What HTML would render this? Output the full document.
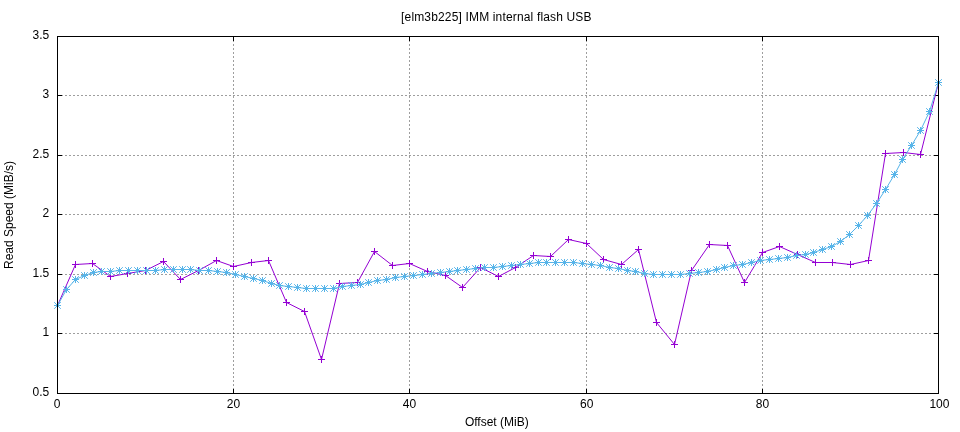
<!DOCTYPE html>
<html lang="en">
<head>
<meta charset="utf-8">
<title>[elm3b225] IMM internal flash USB</title>
<style>
html,body{margin:0;padding:0;background:#fff;}
body{width:960px;height:432px;overflow:hidden;}
svg{display:block;}
</style>
</head>
<body>
<svg width="960" height="432" viewBox="0 0 960 432" role="img" aria-label="Read speed versus offset line chart">
<rect width="960" height="432" fill="#ffffff"/>
<path d="M57,95.5H938.5M57,155.5H938.5M57,214.5H938.5M57,274.5H938.5M57,333.5H938.5M233.5,394V36.5M409.5,394V36.5M586.5,394V36.5M762.5,394V36.5" fill="none" stroke="#000" stroke-opacity="0.38" stroke-width="1" stroke-dasharray="2 2"/>
<path d="M57.5,36.5h4.5M938.5,36.5h-4.5M57.5,95.5h4.5M938.5,95.5h-4.5M57.5,155.5h4.5M938.5,155.5h-4.5M57.5,214.5h4.5M938.5,214.5h-4.5M57.5,274.5h4.5M938.5,274.5h-4.5M57.5,333.5h4.5M938.5,333.5h-4.5M57.5,393.5h4.5M938.5,393.5h-4.5M57.5,393.5v-4.5M57.5,36.5v4.5M233.5,393.5v-4.5M233.5,36.5v4.5M409.5,393.5v-4.5M409.5,36.5v4.5M586.5,393.5v-4.5M586.5,36.5v4.5M762.5,393.5v-4.5M762.5,36.5v4.5M938.5,393.5v-4.5M938.5,36.5v4.5" fill="none" stroke="#000" stroke-width="1"/>
<polyline points="57.5,305.5 75.5,264.5 92.5,263.5 110.5,276.5 127.5,273.5 145.5,270.5 163.5,261.5 180.5,279.5 198.5,270.5 216.5,260.5 233.5,266.5 251.5,262.5 268.5,260.5 286.5,302.5 304.5,311.5 321.5,359.5 339.5,283.5 357.5,282.5 374.5,251.5 392.5,265.5 409.5,263.5 427.5,271.5 445.5,275.5 462.5,287.5 480.5,267.5 498.5,276.5 515.5,267.5 533.5,255.5 550.5,256.5 568.5,239.5 586.5,243.5 603.5,259.5 621.5,264.5 638.5,249.5 656.5,322.5 674.5,344.5 691.5,270.5 709.5,244.5 727.5,245.5 744.5,282.5 762.5,252.5 779.5,246.5 797.5,254.5 815.5,262.5 832.5,262.5 850.5,264.5 868.5,260.5 885.5,153.5 903.5,152.5 920.5,154.5 938.5,82.5" fill="none" stroke="#9400d3" stroke-width="1" stroke-linejoin="round" stroke-linecap="butt"/>
<path d="M54,305.5h7M57.5,302v7M72,264.5h7M75.5,261v7M89,263.5h7M92.5,260v7M107,276.5h7M110.5,273v7M124,273.5h7M127.5,270v7M142,270.5h7M145.5,267v7M160,261.5h7M163.5,258v7M177,279.5h7M180.5,276v7M195,270.5h7M198.5,267v7M213,260.5h7M216.5,257v7M230,266.5h7M233.5,263v7M248,262.5h7M251.5,259v7M265,260.5h7M268.5,257v7M283,302.5h7M286.5,299v7M301,311.5h7M304.5,308v7M318,359.5h7M321.5,356v7M336,283.5h7M339.5,280v7M354,282.5h7M357.5,279v7M371,251.5h7M374.5,248v7M389,265.5h7M392.5,262v7M406,263.5h7M409.5,260v7M424,271.5h7M427.5,268v7M442,275.5h7M445.5,272v7M459,287.5h7M462.5,284v7M477,267.5h7M480.5,264v7M495,276.5h7M498.5,273v7M512,267.5h7M515.5,264v7M530,255.5h7M533.5,252v7M547,256.5h7M550.5,253v7M565,239.5h7M568.5,236v7M583,243.5h7M586.5,240v7M600,259.5h7M603.5,256v7M618,264.5h7M621.5,261v7M635,249.5h7M638.5,246v7M653,322.5h7M656.5,319v7M671,344.5h7M674.5,341v7M688,270.5h7M691.5,267v7M706,244.5h7M709.5,241v7M724,245.5h7M727.5,242v7M741,282.5h7M744.5,279v7M759,252.5h7M762.5,249v7M776,246.5h7M779.5,243v7M794,254.5h7M797.5,251v7M812,262.5h7M815.5,259v7M829,262.5h7M832.5,259v7M847,264.5h7M850.5,261v7M865,260.5h7M868.5,257v7M882,153.5h7M885.5,150v7M900,152.5h7M903.5,149v7M917,154.5h7M920.5,151v7M935,82.5h7M938.5,79v7" fill="none" stroke="#9400d3" stroke-width="1"/>
<polyline points="57.5,305.5 66.5,289.5 75.5,279.5 84.5,275.5 93.5,272.5 101.5,271.5 110.5,271.5 119.5,270.5 128.5,270.5 137.5,270.5 146.5,270.5 155.5,270.5 164.5,269.5 173.5,269.5 182.5,269.5 190.5,269.5 199.5,270.5 208.5,270.5 217.5,271.5 226.5,272.5 235.5,274.5 244.5,276.5 253.5,278.5 262.5,280.5 271.5,283.5 279.5,285.5 288.5,286.5 297.5,287.5 306.5,288.5 315.5,288.5 324.5,288.5 333.5,288.5 342.5,286.5 351.5,285.5 360.5,284.5 368.5,282.5 377.5,280.5 386.5,279.5 395.5,277.5 404.5,276.5 413.5,275.5 422.5,274.5 431.5,273.5 440.5,272.5 449.5,271.5 457.5,270.5 466.5,269.5 475.5,268.5 484.5,267.5 493.5,267.5 502.5,266.5 511.5,265.5 520.5,264.5 529.5,263.5 538.5,262.5 546.5,262.5 555.5,262.5 564.5,262.5 573.5,262.5 582.5,263.5 591.5,264.5 600.5,265.5 609.5,267.5 618.5,268.5 627.5,270.5 635.5,271.5 644.5,273.5 653.5,274.5 662.5,274.5 671.5,274.5 680.5,274.5 689.5,273.5 698.5,272.5 707.5,271.5 716.5,269.5 724.5,267.5 733.5,265.5 742.5,264.5 751.5,262.5 760.5,260.5 769.5,259.5 778.5,258.5 787.5,257.5 796.5,255.5 805.5,254.5 813.5,252.5 822.5,249.5 831.5,246.5 840.5,241.5 849.5,234.5 858.5,225.5 867.5,215.5 876.5,203.5 885.5,189.5 894.5,174.5 902.5,159.5 911.5,145.5 920.5,130.5 929.5,111.5 938.5,82.5" fill="none" stroke="#56b4e9" stroke-width="1" stroke-linejoin="round" stroke-linecap="butt"/>
<path d="M54,305.5h7M57.5,302v7M54.2,302.2l6.6,6.6M54.2,308.8l6.6,-6.6M63,289.5h7M66.5,286v7M63.2,286.2l6.6,6.6M63.2,292.8l6.6,-6.6M72,279.5h7M75.5,276v7M72.2,276.2l6.6,6.6M72.2,282.8l6.6,-6.6M81,275.5h7M84.5,272v7M81.2,272.2l6.6,6.6M81.2,278.8l6.6,-6.6M90,272.5h7M93.5,269v7M90.2,269.2l6.6,6.6M90.2,275.8l6.6,-6.6M98,271.5h7M101.5,268v7M98.2,268.2l6.6,6.6M98.2,274.8l6.6,-6.6M107,271.5h7M110.5,268v7M107.2,268.2l6.6,6.6M107.2,274.8l6.6,-6.6M116,270.5h7M119.5,267v7M116.2,267.2l6.6,6.6M116.2,273.8l6.6,-6.6M125,270.5h7M128.5,267v7M125.2,267.2l6.6,6.6M125.2,273.8l6.6,-6.6M134,270.5h7M137.5,267v7M134.2,267.2l6.6,6.6M134.2,273.8l6.6,-6.6M143,270.5h7M146.5,267v7M143.2,267.2l6.6,6.6M143.2,273.8l6.6,-6.6M152,270.5h7M155.5,267v7M152.2,267.2l6.6,6.6M152.2,273.8l6.6,-6.6M161,269.5h7M164.5,266v7M161.2,266.2l6.6,6.6M161.2,272.8l6.6,-6.6M170,269.5h7M173.5,266v7M170.2,266.2l6.6,6.6M170.2,272.8l6.6,-6.6M179,269.5h7M182.5,266v7M179.2,266.2l6.6,6.6M179.2,272.8l6.6,-6.6M187,269.5h7M190.5,266v7M187.2,266.2l6.6,6.6M187.2,272.8l6.6,-6.6M196,270.5h7M199.5,267v7M196.2,267.2l6.6,6.6M196.2,273.8l6.6,-6.6M205,270.5h7M208.5,267v7M205.2,267.2l6.6,6.6M205.2,273.8l6.6,-6.6M214,271.5h7M217.5,268v7M214.2,268.2l6.6,6.6M214.2,274.8l6.6,-6.6M223,272.5h7M226.5,269v7M223.2,269.2l6.6,6.6M223.2,275.8l6.6,-6.6M232,274.5h7M235.5,271v7M232.2,271.2l6.6,6.6M232.2,277.8l6.6,-6.6M241,276.5h7M244.5,273v7M241.2,273.2l6.6,6.6M241.2,279.8l6.6,-6.6M250,278.5h7M253.5,275v7M250.2,275.2l6.6,6.6M250.2,281.8l6.6,-6.6M259,280.5h7M262.5,277v7M259.2,277.2l6.6,6.6M259.2,283.8l6.6,-6.6M268,283.5h7M271.5,280v7M268.2,280.2l6.6,6.6M268.2,286.8l6.6,-6.6M276,285.5h7M279.5,282v7M276.2,282.2l6.6,6.6M276.2,288.8l6.6,-6.6M285,286.5h7M288.5,283v7M285.2,283.2l6.6,6.6M285.2,289.8l6.6,-6.6M294,287.5h7M297.5,284v7M294.2,284.2l6.6,6.6M294.2,290.8l6.6,-6.6M303,288.5h7M306.5,285v7M303.2,285.2l6.6,6.6M303.2,291.8l6.6,-6.6M312,288.5h7M315.5,285v7M312.2,285.2l6.6,6.6M312.2,291.8l6.6,-6.6M321,288.5h7M324.5,285v7M321.2,285.2l6.6,6.6M321.2,291.8l6.6,-6.6M330,288.5h7M333.5,285v7M330.2,285.2l6.6,6.6M330.2,291.8l6.6,-6.6M339,286.5h7M342.5,283v7M339.2,283.2l6.6,6.6M339.2,289.8l6.6,-6.6M348,285.5h7M351.5,282v7M348.2,282.2l6.6,6.6M348.2,288.8l6.6,-6.6M357,284.5h7M360.5,281v7M357.2,281.2l6.6,6.6M357.2,287.8l6.6,-6.6M365,282.5h7M368.5,279v7M365.2,279.2l6.6,6.6M365.2,285.8l6.6,-6.6M374,280.5h7M377.5,277v7M374.2,277.2l6.6,6.6M374.2,283.8l6.6,-6.6M383,279.5h7M386.5,276v7M383.2,276.2l6.6,6.6M383.2,282.8l6.6,-6.6M392,277.5h7M395.5,274v7M392.2,274.2l6.6,6.6M392.2,280.8l6.6,-6.6M401,276.5h7M404.5,273v7M401.2,273.2l6.6,6.6M401.2,279.8l6.6,-6.6M410,275.5h7M413.5,272v7M410.2,272.2l6.6,6.6M410.2,278.8l6.6,-6.6M419,274.5h7M422.5,271v7M419.2,271.2l6.6,6.6M419.2,277.8l6.6,-6.6M428,273.5h7M431.5,270v7M428.2,270.2l6.6,6.6M428.2,276.8l6.6,-6.6M437,272.5h7M440.5,269v7M437.2,269.2l6.6,6.6M437.2,275.8l6.6,-6.6M446,271.5h7M449.5,268v7M446.2,268.2l6.6,6.6M446.2,274.8l6.6,-6.6M454,270.5h7M457.5,267v7M454.2,267.2l6.6,6.6M454.2,273.8l6.6,-6.6M463,269.5h7M466.5,266v7M463.2,266.2l6.6,6.6M463.2,272.8l6.6,-6.6M472,268.5h7M475.5,265v7M472.2,265.2l6.6,6.6M472.2,271.8l6.6,-6.6M481,267.5h7M484.5,264v7M481.2,264.2l6.6,6.6M481.2,270.8l6.6,-6.6M490,267.5h7M493.5,264v7M490.2,264.2l6.6,6.6M490.2,270.8l6.6,-6.6M499,266.5h7M502.5,263v7M499.2,263.2l6.6,6.6M499.2,269.8l6.6,-6.6M508,265.5h7M511.5,262v7M508.2,262.2l6.6,6.6M508.2,268.8l6.6,-6.6M517,264.5h7M520.5,261v7M517.2,261.2l6.6,6.6M517.2,267.8l6.6,-6.6M526,263.5h7M529.5,260v7M526.2,260.2l6.6,6.6M526.2,266.8l6.6,-6.6M535,262.5h7M538.5,259v7M535.2,259.2l6.6,6.6M535.2,265.8l6.6,-6.6M543,262.5h7M546.5,259v7M543.2,259.2l6.6,6.6M543.2,265.8l6.6,-6.6M552,262.5h7M555.5,259v7M552.2,259.2l6.6,6.6M552.2,265.8l6.6,-6.6M561,262.5h7M564.5,259v7M561.2,259.2l6.6,6.6M561.2,265.8l6.6,-6.6M570,262.5h7M573.5,259v7M570.2,259.2l6.6,6.6M570.2,265.8l6.6,-6.6M579,263.5h7M582.5,260v7M579.2,260.2l6.6,6.6M579.2,266.8l6.6,-6.6M588,264.5h7M591.5,261v7M588.2,261.2l6.6,6.6M588.2,267.8l6.6,-6.6M597,265.5h7M600.5,262v7M597.2,262.2l6.6,6.6M597.2,268.8l6.6,-6.6M606,267.5h7M609.5,264v7M606.2,264.2l6.6,6.6M606.2,270.8l6.6,-6.6M615,268.5h7M618.5,265v7M615.2,265.2l6.6,6.6M615.2,271.8l6.6,-6.6M624,270.5h7M627.5,267v7M624.2,267.2l6.6,6.6M624.2,273.8l6.6,-6.6M632,271.5h7M635.5,268v7M632.2,268.2l6.6,6.6M632.2,274.8l6.6,-6.6M641,273.5h7M644.5,270v7M641.2,270.2l6.6,6.6M641.2,276.8l6.6,-6.6M650,274.5h7M653.5,271v7M650.2,271.2l6.6,6.6M650.2,277.8l6.6,-6.6M659,274.5h7M662.5,271v7M659.2,271.2l6.6,6.6M659.2,277.8l6.6,-6.6M668,274.5h7M671.5,271v7M668.2,271.2l6.6,6.6M668.2,277.8l6.6,-6.6M677,274.5h7M680.5,271v7M677.2,271.2l6.6,6.6M677.2,277.8l6.6,-6.6M686,273.5h7M689.5,270v7M686.2,270.2l6.6,6.6M686.2,276.8l6.6,-6.6M695,272.5h7M698.5,269v7M695.2,269.2l6.6,6.6M695.2,275.8l6.6,-6.6M704,271.5h7M707.5,268v7M704.2,268.2l6.6,6.6M704.2,274.8l6.6,-6.6M713,269.5h7M716.5,266v7M713.2,266.2l6.6,6.6M713.2,272.8l6.6,-6.6M721,267.5h7M724.5,264v7M721.2,264.2l6.6,6.6M721.2,270.8l6.6,-6.6M730,265.5h7M733.5,262v7M730.2,262.2l6.6,6.6M730.2,268.8l6.6,-6.6M739,264.5h7M742.5,261v7M739.2,261.2l6.6,6.6M739.2,267.8l6.6,-6.6M748,262.5h7M751.5,259v7M748.2,259.2l6.6,6.6M748.2,265.8l6.6,-6.6M757,260.5h7M760.5,257v7M757.2,257.2l6.6,6.6M757.2,263.8l6.6,-6.6M766,259.5h7M769.5,256v7M766.2,256.2l6.6,6.6M766.2,262.8l6.6,-6.6M775,258.5h7M778.5,255v7M775.2,255.2l6.6,6.6M775.2,261.8l6.6,-6.6M784,257.5h7M787.5,254v7M784.2,254.2l6.6,6.6M784.2,260.8l6.6,-6.6M793,255.5h7M796.5,252v7M793.2,252.2l6.6,6.6M793.2,258.8l6.6,-6.6M802,254.5h7M805.5,251v7M802.2,251.2l6.6,6.6M802.2,257.8l6.6,-6.6M810,252.5h7M813.5,249v7M810.2,249.2l6.6,6.6M810.2,255.8l6.6,-6.6M819,249.5h7M822.5,246v7M819.2,246.2l6.6,6.6M819.2,252.8l6.6,-6.6M828,246.5h7M831.5,243v7M828.2,243.2l6.6,6.6M828.2,249.8l6.6,-6.6M837,241.5h7M840.5,238v7M837.2,238.2l6.6,6.6M837.2,244.8l6.6,-6.6M846,234.5h7M849.5,231v7M846.2,231.2l6.6,6.6M846.2,237.8l6.6,-6.6M855,225.5h7M858.5,222v7M855.2,222.2l6.6,6.6M855.2,228.8l6.6,-6.6M864,215.5h7M867.5,212v7M864.2,212.2l6.6,6.6M864.2,218.8l6.6,-6.6M873,203.5h7M876.5,200v7M873.2,200.2l6.6,6.6M873.2,206.8l6.6,-6.6M882,189.5h7M885.5,186v7M882.2,186.2l6.6,6.6M882.2,192.8l6.6,-6.6M891,174.5h7M894.5,171v7M891.2,171.2l6.6,6.6M891.2,177.8l6.6,-6.6M899,159.5h7M902.5,156v7M899.2,156.2l6.6,6.6M899.2,162.8l6.6,-6.6M908,145.5h7M911.5,142v7M908.2,142.2l6.6,6.6M908.2,148.8l6.6,-6.6M917,130.5h7M920.5,127v7M917.2,127.2l6.6,6.6M917.2,133.8l6.6,-6.6M926,111.5h7M929.5,108v7M926.2,108.2l6.6,6.6M926.2,114.8l6.6,-6.6M935,82.5h7M938.5,79v7M935.2,79.2l6.6,6.6M935.2,85.8l6.6,-6.6" fill="none" stroke="#56b4e9" stroke-width="1"/>
<rect x="57.5" y="36.5" width="881" height="357" fill="none" stroke="#000" stroke-width="1"/>
<g font-family="&quot;Liberation Sans&quot;, sans-serif" font-size="12" fill="#000">
<text x="49.2" y="39" text-anchor="end">3.5</text>
<text x="49.2" y="98" text-anchor="end">3</text>
<text x="49.2" y="158" text-anchor="end">2.5</text>
<text x="49.2" y="217" text-anchor="end">2</text>
<text x="49.2" y="277" text-anchor="end">1.5</text>
<text x="49.2" y="336" text-anchor="end">1</text>
<text x="49.2" y="396" text-anchor="end">0.5</text>
<text x="57.1" y="408" text-anchor="middle">0</text>
<text x="233.5" y="408" text-anchor="middle">20</text>
<text x="409.5" y="408" text-anchor="middle">40</text>
<text x="586.7" y="408" text-anchor="middle">60</text>
<text x="762.5" y="408" text-anchor="middle">80</text>
<text x="939.4" y="408" text-anchor="middle">100</text>
<text x="496.3" y="21" text-anchor="middle" textLength="190.5" lengthAdjust="spacing">[elm3b225] IMM internal flash USB</text>
<text x="496.8" y="425.5" text-anchor="middle">Offset (MiB)</text>
<text transform="translate(12.7,215) rotate(-90)" text-anchor="middle">Read Speed (MiB/s)</text>
</g>
</svg>
</body>
</html>
